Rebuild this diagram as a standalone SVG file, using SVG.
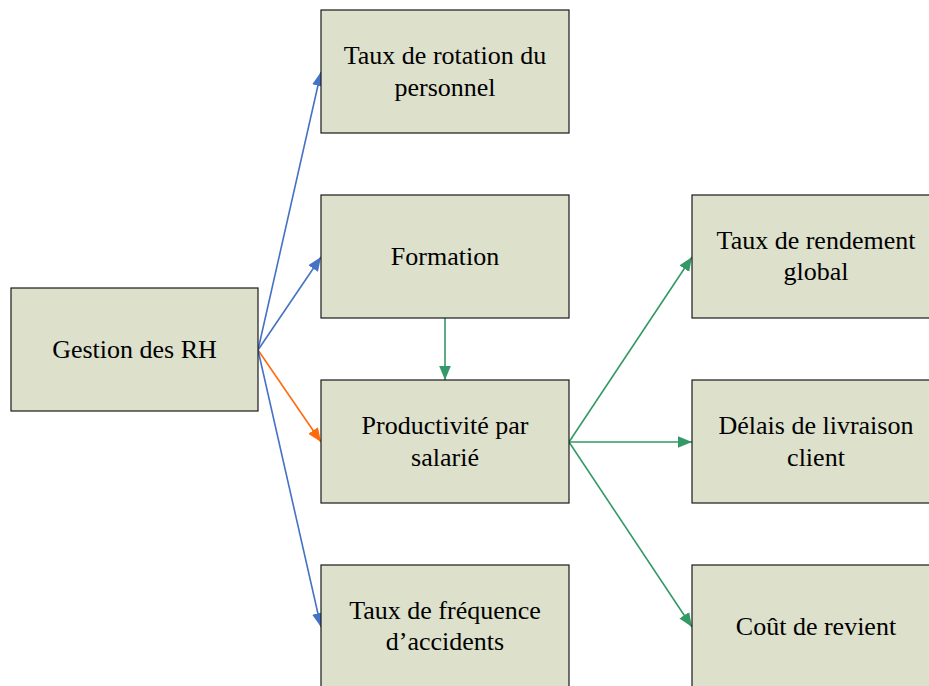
<svg xmlns="http://www.w3.org/2000/svg" width="929" height="686" viewBox="0 0 929 686">
  <style>
    .box { fill: #dde0cb; stroke: #1a1a1a; stroke-width: 1.2; }
    .lbl { font-family: 'Liberation Serif', 'Times New Roman', serif; font-size: 26px; fill: #000; text-anchor: middle; }
    .blue { stroke: #4472c4; stroke-width: 1.6; fill: none; }
    .orange { stroke: #ff6a0d; stroke-width: 1.6; fill: none; }
    .green { stroke: #339966; stroke-width: 1.6; fill: none; }
  </style>
  <defs>
    <marker id="ah-blue" viewBox="0 0 12 10" refX="12" refY="5" markerWidth="14" markerHeight="12" markerUnits="userSpaceOnUse" orient="auto">
      <path d="M0,0 L12,5 L0,10 z" fill="#4472c4"/>
    </marker>
    <marker id="ah-orange" viewBox="0 0 12 10" refX="12" refY="5" markerWidth="14" markerHeight="12" markerUnits="userSpaceOnUse" orient="auto">
      <path d="M0,0 L12,5 L0,10 z" fill="#ff6a0d"/>
    </marker>
    <marker id="ah-green" viewBox="0 0 12 10" refX="12" refY="5" markerWidth="14" markerHeight="12" markerUnits="userSpaceOnUse" orient="auto">
      <path d="M0,0 L12,5 L0,10 z" fill="#339966"/>
    </marker>
  </defs>

  <rect width="929" height="686" fill="#ffffff"/>

  <g id="connectors">
    <line class="blue" x1="258" y1="350" x2="321" y2="72" marker-end="url(#ah-blue)"/>
    <line class="blue" x1="258" y1="350" x2="321" y2="257" marker-end="url(#ah-blue)"/>
    <line class="orange" x1="258" y1="350" x2="321" y2="442" marker-end="url(#ah-orange)"/>
    <line class="blue" x1="258" y1="350" x2="321" y2="627" marker-end="url(#ah-blue)"/>
    <line class="green" x1="445" y1="318" x2="445" y2="380" marker-end="url(#ah-green)"/>
    <line class="green" x1="569" y1="442" x2="692" y2="257" marker-end="url(#ah-green)"/>
    <line class="green" x1="569" y1="442" x2="692" y2="442" marker-end="url(#ah-green)"/>
    <line class="green" x1="569" y1="442" x2="692" y2="627" marker-end="url(#ah-green)"/>
  </g>

  <g id="gestion-rh">
    <rect class="box" x="11" y="288" width="247" height="123"/>
    <text class="lbl" x="134.5" y="358">Gestion des RH</text>
  </g>

  <g id="taux-rotation">
    <rect class="box" x="321" y="10" width="248" height="123"/>
    <text class="lbl" x="445" y="64">Taux de rotation du</text>
    <text class="lbl" x="445" y="96">personnel</text>
  </g>

  <g id="formation">
    <rect class="box" x="321" y="195" width="248" height="123"/>
    <text class="lbl" x="445" y="265">Formation</text>
  </g>

  <g id="productivite">
    <rect class="box" x="321" y="380" width="248" height="123"/>
    <text class="lbl" x="445" y="434">Productivité par</text>
    <text class="lbl" x="445" y="466">salarié</text>
  </g>

  <g id="taux-frequence">
    <rect class="box" x="321" y="565" width="248" height="123"/>
    <text class="lbl" x="445" y="619">Taux de fréquence</text>
    <text class="lbl" x="445" y="650">d’accidents</text>
  </g>

  <g id="taux-rendement">
    <rect class="box" x="692" y="195" width="248" height="123"/>
    <text class="lbl" x="816" y="249">Taux de rendement</text>
    <text class="lbl" x="816" y="280">global</text>
  </g>

  <g id="delais-livraison">
    <rect class="box" x="692" y="380" width="248" height="123"/>
    <text class="lbl" x="816" y="434">Délais de livraison</text>
    <text class="lbl" x="816" y="466">client</text>
  </g>

  <g id="cout-revient">
    <rect class="box" x="692" y="565" width="248" height="123"/>
    <text class="lbl" x="816" y="635">Coût de revient</text>
  </g>
</svg>
